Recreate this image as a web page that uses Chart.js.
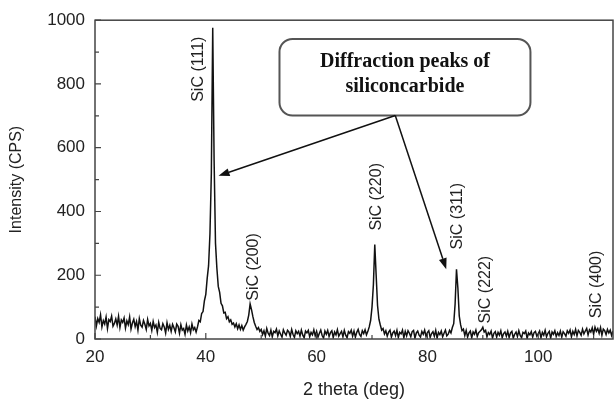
<!DOCTYPE html>
<html>
<head>
<meta charset="utf-8">
<script src="https://cdn.jsdelivr.net/npm/chart.js@4.4.1/dist/chart.umd.min.js"></script>
<style>
  html, body { margin: 0; padding: 0; background: #fff; }
  #wrap { width: 615px; height: 401px; position: relative; }
</style>
</head>
<body>
<div id="wrap"><canvas id="graficoXrd"></canvas></div>
<script>
// step scan, 0.25 deg per point
const scanStart = 20;
const scanStep = 0.25;

const scan20to40 = [
  70, 41, 64, 52, 76, 38, 58, 47, 69, 33, 61, 55, 72, 40, 49, 63, 44, 71, 36, 60,
  52, 66, 34, 57, 45, 69, 31, 50, 62, 39, 55, 28, 64, 43, 37, 58, 46, 30, 61, 41,
  49, 27, 55, 36, 44, 21, 52, 33, 29, 48, 38, 19, 51, 30, 43, 24, 46, 35, 22, 47,
  40, 18, 45, 28, 33, 15, 44, 25, 38, 20, 47, 29, 36, 22, 38, 58, 54, 80, 86, 120
];
const scan40to60 = [
  140, 190, 230, 330, 520, 976, 560, 300, 222, 165, 146, 112, 104, 82, 84, 64, 70, 54, 60, 46,
  50, 38, 48, 32, 44, 30, 42, 28, 38, 46, 55, 75, 110, 92, 70, 52, 40, 30, 36, 24,
  30, 14, 26, 9, 33, 18, 11, 28, 7, 24, 20, 31, 10, 25, 15, 6, 29, 19, 12, 27,
  22, 8, 30, 14, 5, 26, 17, 24, 9, 28, 12, 4, 25, 19, 27, 7, 21, 13, 29, 10
];
const scan60to80 = [
  24, 6, 18, 28, 11, 3, 25, 15, 27, 8, 20, 26, 5, 22, 13, 29, 9, 17, 24, 7,
  27, 12, 4, 23, 18, 28, 9, 25, 6, 21, 30, 14, 8, 26, 17, 29, 13, 24, 38, 58,
  100, 170, 296, 200, 105, 62, 44, 28, 33, 16, 26, 9, 22, 28, 6, 19, 25, 11, 27, 5,
  21, 16, 28, 4, 24, 10, 26, 18, 7, 23, 27, 3, 19, 25, 12, 6, 24, 15, 28, 8
];
const scan80to100 = [
  20, 26, 5, 17, 23, 9, 27, 3, 21, 14, 25, 7, 18, 28, 10, 15, 27, 19, 36, 48,
  110, 219, 160, 72, 44, 26, 31, 11, 27, 6, 19, 25, 4, 22, 15, 28, 8, 20, 24, 29,
  37, 22, 27, 7, 20, 14, 25, 3, 18, 23, 6, 21, 12, 26, 4, 17, 22, 9, 24, 5,
  19, 24, 3, 15, 22, 8, 26, 11, 4, 21, 17, 25, 2, 19, 13, 23, 6, 20, 24, 9
];
const scan100to114 = [
  16, 25, 4, 21, 12, 27, 7, 18, 24, 3, 22, 15, 26, 8, 20, 11, 25, 6, 23, 17,
  9, 26, 18, 28, 7, 24, 14, 30, 10, 27, 21, 12, 31, 16, 25, 33, 13, 29, 22, 35,
  15, 37, 24, 33, 18, 36, 12, 31, 26, 14, 30, 19, 28, 11, 25
];

const intensity = [].concat(scan20to40, scan40to60, scan60to80, scan80to100, scan100to114);

// peak labels: text, centre angle, lower end of the rotated text (CPS)
const peakLabels = ["SiC (111)", "SiC (200)", "SiC (220)", "SiC (311)", "SiC (222)", "SiC (400)"];
const peakLabelX = [38.7, 48.65, 70.8, 85.4, 90.45, 110.45];
const peakLabelY = [744, 120, 340, 281, 49, 65];

const yMinorTicks = [100, 300, 500, 700, 900];
const xMinorTicks = [30, 50, 70, 90, 110];

const calloutLines = ["Diffraction peaks of", "siliconcarbide"];

const pontos = intensity.map((v, i) => ({ x: scanStart + i * scanStep, y: v }));

const textColor = "#222";
const frameColor = "#444";

// Moldura, marcas internas, rotulos dos picos e caixa de anotacao
const extras = {
  id: "extras",
  afterDatasetsDraw(chart) {
    const { ctx, chartArea: ca, scales } = chart;
    const sx = scales.x;
    const sy = scales.y;

    ctx.save();
    ctx.strokeStyle = frameColor;
    ctx.lineWidth = 1.5;
    ctx.strokeRect(ca.left, ca.top, ca.right - ca.left, ca.bottom - ca.top);

    ctx.lineWidth = 1.2;
    ctx.beginPath();
    sy.ticks.forEach((t) => {
      const py = sy.getPixelForValue(t.value);
      ctx.moveTo(ca.left, py);
      ctx.lineTo(ca.left + 6, py);
    });
    yMinorTicks.forEach((v) => {
      const py = sy.getPixelForValue(v);
      ctx.moveTo(ca.left, py);
      ctx.lineTo(ca.left + 4, py);
    });
    sx.ticks.forEach((t) => {
      const px = sx.getPixelForValue(t.value);
      ctx.moveTo(px, ca.bottom);
      ctx.lineTo(px, ca.bottom - 6);
    });
    xMinorTicks.forEach((v) => {
      const px = sx.getPixelForValue(v);
      ctx.moveTo(px, ca.bottom);
      ctx.lineTo(px, ca.bottom - 4);
    });
    ctx.stroke();

    // rotulos dos picos
    ctx.fillStyle = textColor;
    ctx.font = "16px 'Liberation Sans', Arial, sans-serif";
    ctx.textAlign = "left";
    ctx.textBaseline = "middle";
    peakLabels.forEach((txt, i) => {
      ctx.save();
      ctx.translate(sx.getPixelForValue(peakLabelX[i]), sy.getPixelForValue(peakLabelY[i]));
      ctx.rotate(-Math.PI / 2);
      ctx.fillText(txt, 0, 0);
      ctx.restore();
    });

    // caixa
    const bx1 = sx.getPixelForValue(53.3);
    const bx2 = sx.getPixelForValue(98.6);
    const by1 = sy.getPixelForValue(941);
    const by2 = sy.getPixelForValue(701);
    ctx.beginPath();
    ctx.roundRect(bx1, by1, bx2 - bx1, by2 - by1, 13);
    ctx.fillStyle = "#fff";
    ctx.fill();
    ctx.strokeStyle = "#555";
    ctx.lineWidth = 2;
    ctx.stroke();

    ctx.fillStyle = "#111";
    ctx.font = "bold 20px 'Liberation Serif', 'Times New Roman', serif";
    ctx.textAlign = "center";
    const cx = (bx1 + bx2) / 2;
    ctx.fillText(calloutLines[0], cx, by1 + 23);
    ctx.fillText(calloutLines[1], cx, by1 + 48);

    // setas
    const origem = { x: sx.getPixelForValue(74.2), y: by2 };
    const alvos = [
      { x: sx.getPixelForValue(42.3), y: sy.getPixelForValue(512) },
      { x: sx.getPixelForValue(83.4), y: sy.getPixelForValue(219) },
    ];
    ctx.strokeStyle = "#111";
    ctx.fillStyle = "#111";
    ctx.lineWidth = 1.5;
    alvos.forEach((a) => {
      const ang = Math.atan2(a.y - origem.y, a.x - origem.x);
      const len = 11;
      const half = 4;
      const bxp = a.x - len * Math.cos(ang);
      const byp = a.y - len * Math.sin(ang);
      ctx.beginPath();
      ctx.moveTo(origem.x, origem.y);
      ctx.lineTo(bxp, byp);
      ctx.stroke();
      ctx.beginPath();
      ctx.moveTo(a.x, a.y);
      ctx.lineTo(bxp + half * Math.sin(ang), byp - half * Math.cos(ang));
      ctx.lineTo(bxp - half * Math.sin(ang), byp + half * Math.cos(ang));
      ctx.closePath();
      ctx.fill();
    });
    ctx.restore();
  },
};

const ctx = document.getElementById("graficoXrd").getContext("2d");

new Chart(ctx, {
  type: "line",
  data: {
    datasets: [
      {
        label: "SiC",
        data: pontos,
        borderColor: "#111",
        borderWidth: 1.5,
        pointRadius: 0,
        pointHoverRadius: 0,
        tension: 0,
        fill: false,
      },
    ],
  },
  options: {
    responsive: true,
    maintainAspectRatio: false,
    animation: false,
    devicePixelRatio: 1,
    events: [],
    layout: { padding: { left: 0, top: 15, right: 2, bottom: 0 } },
    plugins: {
      legend: { display: false },
      tooltip: { enabled: false },
    },
    scales: {
      x: {
        type: "linear",
        min: 20,
        max: 113.5,
        grid: { display: false, drawTicks: false },
        border: { display: false },
        ticks: {
          stepSize: 20,
          includeBounds: false,
          padding: 8,
          color: textColor,
          font: { family: "'Liberation Sans', Arial, sans-serif", size: 17 },
          maxRotation: 0,
          callback: (v) => String(v),
        },
        title: {
          display: true,
          text: "2 theta (deg)",
          color: textColor,
          font: { family: "'Liberation Sans', Arial, sans-serif", size: 18 },
          padding: { top: 0, bottom: 0 },
        },
        afterFit(scale) {
          scale.height = 62;
        },
      },
      y: {
        min: 0,
        max: 1000,
        grid: { display: false, drawTicks: false },
        border: { display: false },
        ticks: {
          stepSize: 200,
          padding: 10,
          color: textColor,
          font: { family: "'Liberation Sans', Arial, sans-serif", size: 17 },
          callback: (v) => String(v),
        },
        title: {
          display: true,
          text: "Intensity (CPS)",
          color: textColor,
          font: { family: "'Liberation Sans', Arial, sans-serif", size: 16 },
          padding: { top: 7, bottom: 0 },
        },
        afterFit(scale) {
          scale.width = 95;
        },
      },
    },
  },
  plugins: [extras],
});
</script>
</body>
</html>
